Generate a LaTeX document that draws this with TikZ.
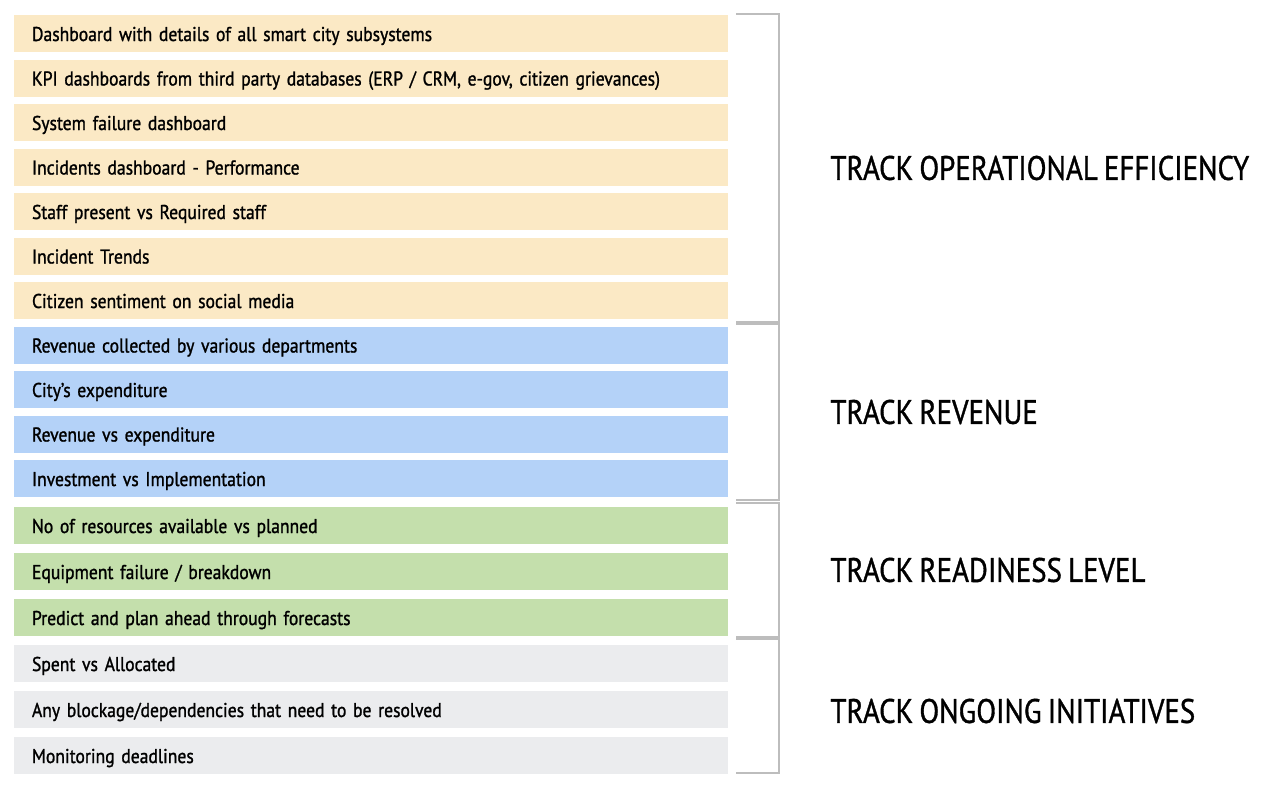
\documentclass[tikz,border=0pt]{standalone}
\usepackage{fontspec}
\setmainfont{PT Sans}[FakeStretch=0.88,FakeBold=1.2,WordSpace=0.7]
\newfontfamily\trackfont{PT Sans}[FakeStretch=0.85,FakeBold=1,WordSpace=0.8]
\usetikzlibrary{positioning}
\definecolor{opsyellow}{HTML}{FBE9C5}
\definecolor{revblue}{HTML}{B4D2F8}
\definecolor{readygreen}{HTML}{C4DFAC}
\definecolor{ongoinggray}{HTML}{EBECEE}
\definecolor{bracegray}{HTML}{BDBDBD}
\tikzset{
row/.style={
fill=#1,outer sep=0pt,
text width=339pt,minimum height=18.5pt,inner xsep=9pt,inner ysep=0pt,
text height=8.5pt,text depth=1pt,
align=left,anchor=north west,font={\fontsize{10pt}{12pt}\selectfont}},
brace/.style={draw=bracegray,line width=0.8pt},
track/.style={anchor=west,xshift=22pt,font={\trackfont\fontsize{17pt}{20pt}\selectfont}}
}

\begin{document}
\begin{tikzpicture}[x=0.5pt,y=-0.5pt]
  \useasboundingbox (0,0) rectangle (1280,789);
  \node[row=opsyellow] (r1) at (14,15) {Dashboard with details of all smart city subsystems};
  \node[row=opsyellow, below=3.75pt of r1.south west, anchor=north west] (r2) {KPI dashboards from third party databases (ERP / CRM, e-gov, citizen grievances)};
  \node[row=opsyellow, below=3.75pt of r2.south west, anchor=north west] (r3) {System failure dashboard};
  \node[row=opsyellow, below=3.75pt of r3.south west, anchor=north west] (r4) {Incidents dashboard - Performance};
  \node[row=opsyellow, below=3.75pt of r4.south west, anchor=north west] (r5) {Staff present vs Required staff};
  \node[row=opsyellow, below=3.75pt of r5.south west, anchor=north west] (r6) {Incident Trends};
  \node[row=opsyellow, below=3.75pt of r6.south west, anchor=north west] (r7) {Citizen sentiment on social media};
  \node[row=revblue, below=3.75pt of r7.south west, anchor=north west] (r8) {Revenue collected by various departments};
  \node[row=revblue, below=3.75pt of r8.south west, anchor=north west] (r9) {City’s expenditure};
  \node[row=revblue, below=3.75pt of r9.south west, anchor=north west] (r10) {Revenue vs expenditure};
  \node[row=revblue, below=3.75pt of r10.south west, anchor=north west] (r11) {Investment vs Implementation};
  \node[row=readygreen, below=5pt of r11.south west, anchor=north west] (r12) {No of resources available vs planned};
  \node[row=readygreen, below=4.5pt of r12.south west, anchor=north west] (r13) {Equipment failure / breakdown};
  \node[row=readygreen, below=4.5pt of r13.south west, anchor=north west] (r14) {Predict and plan ahead through forecasts};
  \node[row=ongoinggray, below=4.5pt of r14.south west, anchor=north west] (r15) {Spent vs Allocated};
  \node[row=ongoinggray, below=4.5pt of r15.south west, anchor=north west] (r16) {Any blockage/dependencies that need to be resolved};
  \node[row=ongoinggray, below=4.5pt of r16.south west, anchor=north west] (r17) {Monitoring deadlines};
  % brackets
  \draw[brace] ([xshift=4pt,yshift=0.5pt] r1.north east) -- ([xshift=25.5pt,yshift=0.5pt] r1.north east)
    -- node[track] {TRACK OPERATIONAL EFFICIENCY} ([xshift=25.5pt,yshift=-1.5pt] r7.south east) -- ([xshift=4pt,yshift=-1.5pt] r7.south east);
  \draw[brace] ([xshift=4pt,yshift=1.25pt] r8.north east) -- ([xshift=25.5pt,yshift=1.25pt] r8.north east)
    -- node[track] {TRACK REVENUE} ([xshift=25.5pt,yshift=-1.5pt] r11.south east) -- ([xshift=4pt,yshift=-1.5pt] r11.south east);
  \draw[brace] ([xshift=4pt,yshift=2pt] r12.north east) -- ([xshift=25.5pt,yshift=2pt] r12.north east)
    -- node[track] {TRACK READINESS LEVEL} ([xshift=25.5pt,yshift=-0.5pt] r14.south east) -- ([xshift=4pt,yshift=-0.5pt] r14.south east);
  \draw[brace] ([xshift=4pt,yshift=3pt] r15.north east) -- ([xshift=25.5pt,yshift=3pt] r15.north east)
    -- node[track,yshift=-2.5pt] {TRACK ONGOING INITIATIVES} ([xshift=25.5pt,yshift=0.5pt] r17.south east) -- ([xshift=4pt,yshift=0.5pt] r17.south east);
\end{tikzpicture}
\end{document}
